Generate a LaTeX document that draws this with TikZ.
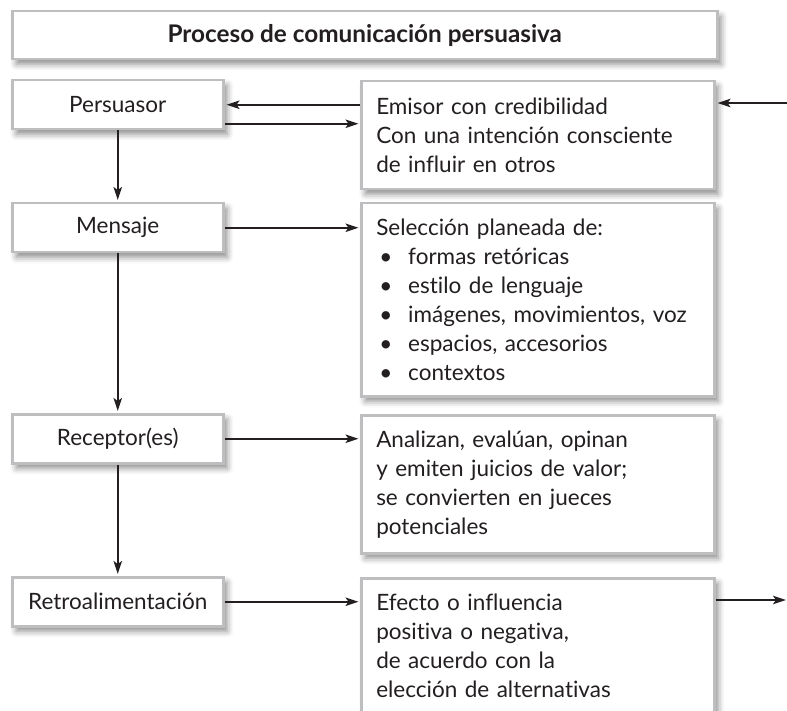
\documentclass[tikz,border=0pt]{standalone}
\usepackage{fontspec}
\setmainfont{Lato}[Ligatures=NoCommon]
\usetikzlibrary{arrows.meta,shadows.blur}
\definecolor{ink}{RGB}{35,31,32}
\definecolor{frame}{RGB}{190,190,192}
\newcommand{\bitem}{\makebox[32pt][l]{\hspace{3pt}•}}
\tikzset{
 boxstyle/.style={draw=frame, line width=2.5pt, fill=white,
   blur shadow={shadow xshift=4pt, shadow yshift=-5pt, shadow blur radius=6pt, shadow opacity=45},
   text=ink, inner sep=0pt, anchor=north west},
 leftbox/.style={boxstyle, minimum width=211pt, minimum height=49pt, font=\fontsize{22.5}{29}\selectfont},
 rightbox/.style={boxstyle, minimum width=353pt, text width=323pt, inner xsep=15pt, align=left, font=\fontsize{22.5}{29}\selectfont},
 arr/.style={draw=ink, line width=1.9pt, -{Stealth[length=13pt,width=8.5pt,inset=3pt]}},
}
\begin{document}
\begin{tikzpicture}[x=1pt,y=-1pt]
\useasboundingbox (0,0) rectangle (787,711);
\clip (0,0) rectangle (787,711);
\node[boxstyle, minimum width=705pt, minimum height=48pt, font=\bfseries\fontsize{24.3}{28}\selectfont] (title) at (11,10) {Proceso de comunicación persuasiva};
\node[leftbox] (pers) at (11,79) {Persuasor};
\node[leftbox] (mens) at (11,202) {Mensaje};
\node[leftbox] (rec) at (11,413) {Receptor(es)};
\node[leftbox] (retro) at (11,576) {Retroalimentación};
\node[rightbox, minimum height=108pt] (emisor) at (360,80) {Emisor con credibilidad\\Con una intención consciente\\de influir en otros};
\node[rightbox, minimum height=193pt] (sel) at (360,202) {Selección planeada de:\\\bitem formas retóricas\\\bitem estilo de lenguaje\\\bitem imágenes, movimientos, voz\\\bitem espacios, accesorios\\\bitem contextos};
\node[rightbox, minimum height=138pt] (anal) at (360,414) {Analizan, evalúan, opinan\\y emiten juicios de valor;\\se convierten en jueces\\potenciales};
\node[rightbox, minimum height=136pt] (efe) at (360,577) {Efecto o influencia\\positiva o negativa,\\de acuerdo con la\\elección de alternativas};
\coordinate (inR) at (787,103);
\coordinate (outR) at (786,600);
\coordinate (pb) at ([yshift=-19pt]pers.east);
\draw[arr, shorten >=2pt] (emisor.west |- pers.east) -- (pers.east);
\draw[arr, shorten >=1.5pt] (pb) -- (emisor.west |- pb);
\draw[arr, shorten >=2pt] (inR) -- (emisor.east |- inR);
\draw[arr, shorten >=2pt] (pers.south) -- (mens.north);
\draw[arr, shorten >=2pt] (mens.south) -- (rec.north);
\draw[arr, shorten >=2pt] (rec.south) -- (retro.north);
\draw[arr, shorten >=1.5pt] (mens.east) -- (sel.west |- mens.east);
\draw[arr, shorten >=1.5pt] (rec.east) -- (anal.west |- rec.east);
\draw[arr, shorten >=1.5pt] (retro.east) -- (efe.west |- retro.east);
\draw[arr] (efe.east |- outR) -- (outR);
\end{tikzpicture}
\end{document}
